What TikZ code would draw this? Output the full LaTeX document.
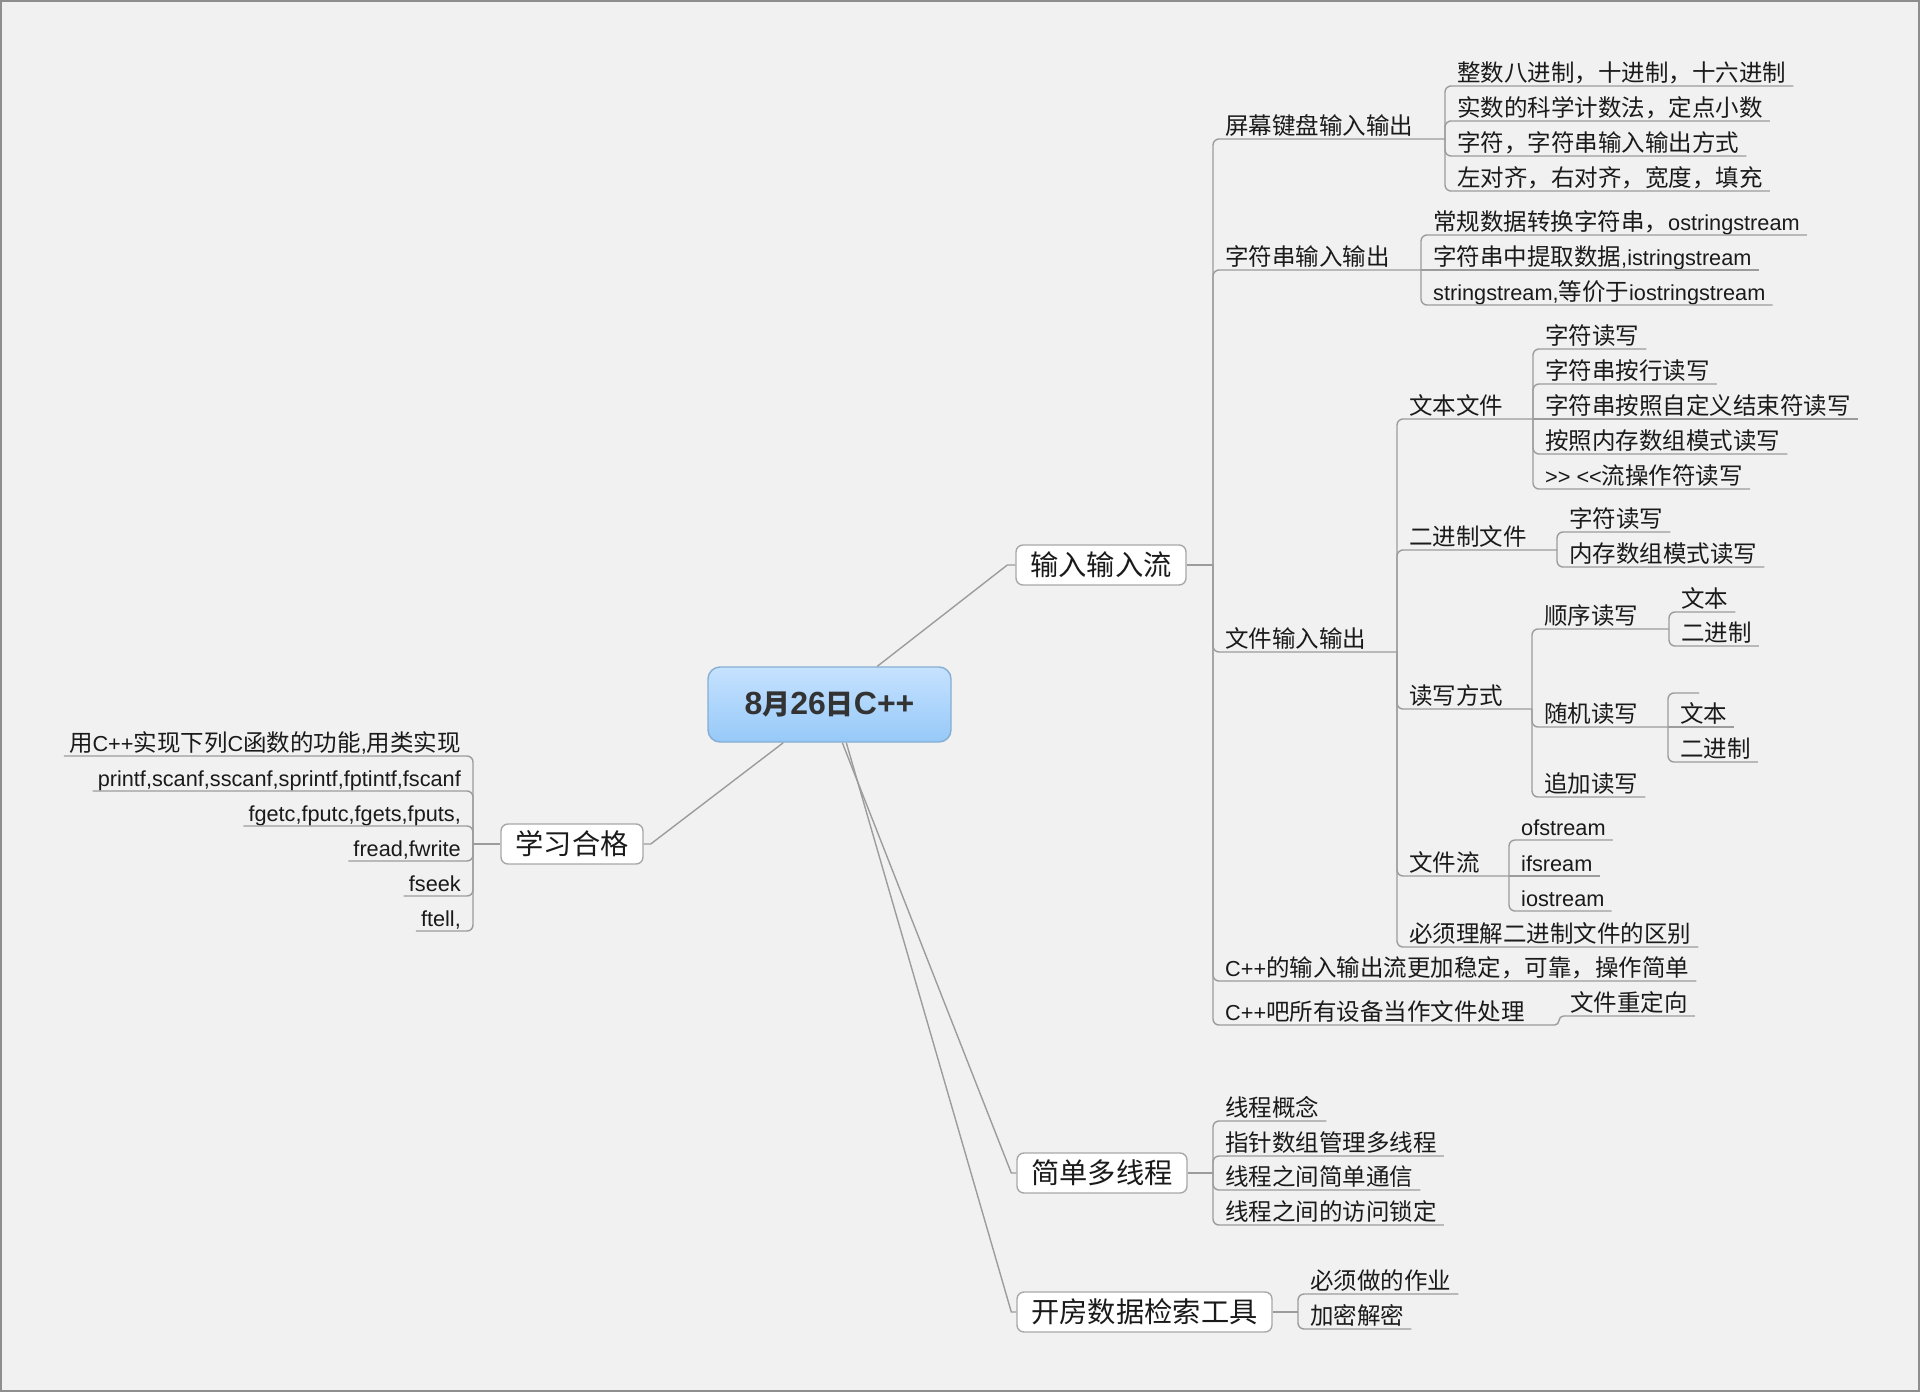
\documentclass[tikz,border=0pt]{standalone}
\usepackage{fontspec}
\setmainfont{Liberation Sans}
\newfontfamily\cjk{Noto Sans CJK SC}[Scale=1.083]
\usetikzlibrary{calc}
\definecolor{bg}{HTML}{F1F1F1}
\definecolor{linegrey}{HTML}{9C9C9C}
\definecolor{boxgrey}{HTML}{A8A8A8}
\definecolor{txt}{HTML}{1A1A1A}
\definecolor{cbtop}{HTML}{C6E2FF}
\definecolor{cbbot}{HTML}{96C9F8}
\definecolor{cbborder}{HTML}{86AED2}
\definecolor{frame}{HTML}{8E8E8E}
\newcommand\zh[1]{{\cjk #1}}
\newcommand\kidfont{\fontsize{21.7}{25}\selectfont}
\newcommand\boxfont{\fontsize{26.1}{30}\selectfont\cjk}
\newcommand\zhc[1]{{\fontsize{25.8}{30}\selectfont\cjk\bfseries #1}}
\tikzset{
  conn/.style={draw=linegrey, line width=1.4pt},
  leaf/.style={inner sep=0pt, text=txt, font=\kidfont},
  topicbox/.style={draw=boxgrey, fill=white, rounded corners=7pt, line width=1.4pt,
    minimum height=40pt, inner sep=0pt, font=\boxfont, text=txt},
  centralbox/.style={draw=cbborder, top color=cbtop, bottom color=cbbot, rounded corners=12pt,
    line width=1.4pt, minimum width=243pt, minimum height=75pt, inner sep=0pt, text=black!80},
}
% right-side leaf: name, spine x, parent y, child y, text
\newcommand\rk[5]{%
  \node[leaf, anchor=base west] (#1) at (#2+12,#4-5) {#5};
  \ifdim #3pt=#4pt
    \draw[conn] (#2,#4) -- ($(#1.east|-0,#4)+(7,0)$);
  \else
    \draw[conn, rounded corners=6pt] (#2,#3) -- (#2,#4) -- ($(#1.east|-0,#4)+(7,0)$);
  \fi}
% right-side parent: name, spine x, parent y, child y, text, child-spine x
\newcommand\rp[6]{%
  \node[leaf, anchor=base west] (#1) at (#2+12,#4-5) {#5};
  \ifdim #3pt=#4pt
    \draw[conn] (#2,#4) -- (#6,#4);
  \else
    \draw[conn, rounded corners=6pt] (#2,#3) -- (#2,#4) -- (#6,#4);
  \fi}
% left-side leaf: name, parent y, child y, text
\newcommand\lk[4]{%
  \node[leaf, anchor=base east] (#1) at (461,#3-5) {#4};
  \draw[conn, rounded corners=6pt] (473,#2) -- (473,#3) -- ($(#1.west|-0,#3)+(-5,0)$);}
\begin{document}
\begin{tikzpicture}[x=1pt,y=-1pt]
\fill[bg] (0,0) rectangle (1920,1392);
\draw[frame, line width=2pt] (1,1) rectangle (1919,1391);
\useasboundingbox (0,0) rectangle (1920,1392);

% main topics
\node[centralbox] (c) at (829.5,704.5) {\fontsize{32}{36}\selectfont\bfseries 8\zhc{月}26\zhc{日}C++};
\node[topicbox, minimum width=170pt] (io) at (1101,565) {输入输入流};
\node[topicbox, minimum width=142pt] (xx) at (572,844) {学习合格};
\node[topicbox, minimum width=170pt] (mt) at (1102,1173) {简单多线程};
\node[topicbox, minimum width=255pt] (kf) at (1144.5,1312) {开房数据检索工具};

\draw[conn] ([xshift=170pt]c.north west) -- ([xshift=-8pt]io.west) -- (io.west);
\draw[conn] ([xshift=76pt]c.south west) -- ([xshift=7pt]xx.east) -- (xx.east);
\draw[conn] ([xshift=135pt]c.south west) -- ([xshift=-5pt]mt.west) -- (mt.west);
\draw[conn] ([xshift=139pt]c.south west) -- ([xshift=-5pt]kf.west) -- (kf.west);

% 输入输入流
\coordinate (s1) at (1213,565);
\draw[conn] (io.east) -- (s1);
\rp{pm}{1213}{565}{139}{\zh{屏幕键盘输入输出}}{1445}
\rp{zf}{1213}{565}{270}{\zh{字符串输入输出}}{1421}
\rp{wj}{1213}{565}{652}{\zh{文件输入输出}}{1397}
\rk{cppa}{1213}{565}{981}{C++\zh{的输入输出流更加稳定，可靠，操作简单}}
\rp{cppb}{1213}{565}{1025}{C++\zh{吧所有设备当作文件处理}}{1552}
\node[leaf, anchor=base west] (cxd) at (1570,1011) {\zh{文件重定向}};
\coordinate (jb) at (1552,1025);
\draw[conn, rounded corners=4.5pt] (jb) -- (1559,1025) -- (1559,1016) -- ($(cxd.east|-0,1016)+(7,0)$);

\rk{pma}{1445}{139}{86}{\zh{整数八进制，十进制，十六进制}}
\rk{pmb}{1445}{139}{121}{\zh{实数的科学计数法，定点小数}}
\rk{pmc}{1445}{139}{156}{\zh{字符，字符串输入输出方式}}
\rk{pmd}{1445}{139}{191}{\zh{左对齐，右对齐，宽度，填充}}

\rk{zfa}{1421}{270}{235}{\zh{常规数据转换字符串，}ostringstream}
\rk{zfb}{1421}{270}{270}{\zh{字符串中提取数据},istringstream}
\rk{zfc}{1421}{270}{305}{stringstream,\zh{等价于}iostringstream}

\rp{wb}{1397}{652}{419}{\zh{文本文件}}{1533}
\rp{ej}{1397}{652}{550}{\zh{二进制文件}}{1557}
\rp{dx}{1397}{652}{709}{\zh{读写方式}}{1532}
\rp{wl}{1397}{652}{876}{\zh{文件流}}{1509}
\rk{bx}{1397}{652}{947}{\zh{必须理解二进制文件的区别}}

\rk{wba}{1533}{419}{349}{\zh{字符读写}}
\rk{wbb}{1533}{419}{384}{\zh{字符串按行读写}}
\rk{wbc}{1533}{419}{419}{\zh{字符串按照自定义结束符读写}}
\rk{wbd}{1533}{419}{454}{\zh{按照内存数组模式读写}}
\rk{wbe}{1533}{419}{489}{>{}> <{}<\zh{流操作符读写}}

\rk{eja}{1557}{550}{532}{\zh{字符读写}}
\rk{ejb}{1557}{550}{567}{\zh{内存数组模式读写}}

\rp{sx}{1532}{709}{629}{\zh{顺序读写}}{1669}
\rp{sj}{1532}{709}{727}{\zh{随机读写}}{1668}
\rk{zj}{1532}{709}{797}{\zh{追加读写}}

\rk{sxa}{1669}{629}{612}{\zh{文本}}
\rk{sxb}{1669}{629}{646}{\zh{二进制}}

\coordinate (sje) at (1699,693);
\draw[conn, rounded corners=6pt] (1668,727) -- (1668,693) -- (sje);
\rk{sja}{1668}{727}{727}{\zh{文本}}
\rk{sjb}{1668}{727}{762}{\zh{二进制}}

\rk{wla}{1509}{876}{840}{ofstream}
\rk{wlb}{1509}{876}{876}{ifsream}
\rk{wlc}{1509}{876}{911}{iostream}

% 简单多线程
\coordinate (s2) at (1213,1173);
\draw[conn] (mt.east) -- (s2);
\rk{mta}{1213}{1173}{1121}{\zh{线程概念}}
\rk{mtb}{1213}{1173}{1156}{\zh{指针数组管理多线程}}
\rk{mtc}{1213}{1173}{1190}{\zh{线程之间简单通信}}
\rk{mtd}{1213}{1173}{1225}{\zh{线程之间的访问锁定}}

% 开房数据检索工具
\coordinate (s3) at (1298,1312);
\draw[conn] (kf.east) -- (s3);
\rk{kfa}{1298}{1312}{1294}{\zh{必须做的作业}}
\rk{kfb}{1298}{1312}{1329}{\zh{加密解密}}

% 学习合格
\coordinate (s4) at (473,844);
\draw[conn] (xx.west) -- (s4);
\lk{xxa}{844}{756}{\zh{用}C++\zh{实现下列}C\zh{函数的功能},\zh{用类实现}}
\lk{xxb}{844}{791}{printf,scanf,sscanf,sprintf,fptintf,fscanf}
\lk{xxc}{844}{826}{fgetc,fputc,fgets,fputs,}
\lk{xxd}{844}{861}{fread,fwrite}
\lk{xxe}{844}{896}{fseek}
\lk{xxf}{844}{931}{ftell,}
\end{tikzpicture}
\end{document}
